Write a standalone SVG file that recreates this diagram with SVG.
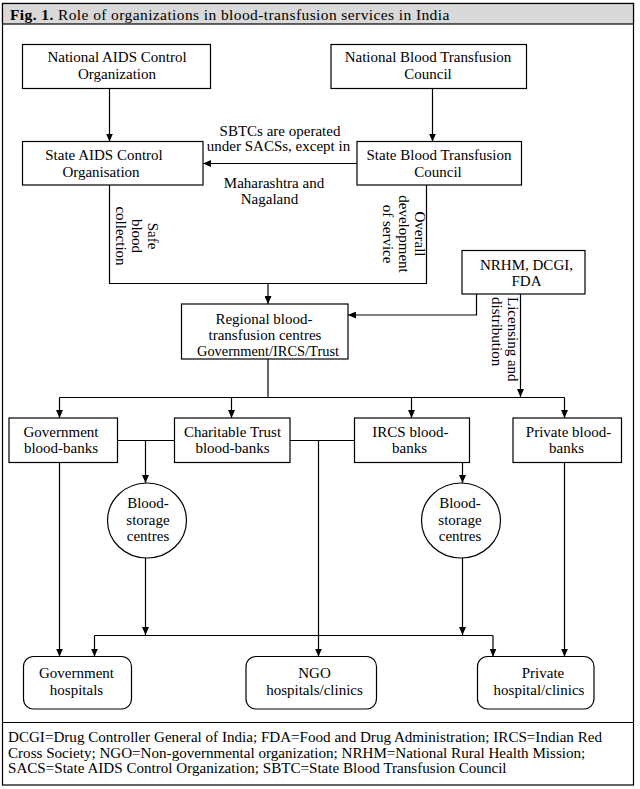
<svg xmlns="http://www.w3.org/2000/svg" width="640" height="789" viewBox="0 0 640 789">
<defs>
<marker id="ah" markerUnits="userSpaceOnUse" markerWidth="9" markerHeight="7" refX="8" refY="3.5" orient="auto">
<path d="M0,0 L8,3.5 L0,7 z" fill="#000"/>
</marker>
<style>
text{font-family:"Liberation Serif","Times New Roman",serif;fill:#000}
.t{font-size:15px;text-anchor:middle}
.box{fill:#fff;stroke:#000;stroke-width:1.2}
.c{fill:none;stroke:#000;stroke-width:1.2}
.a{fill:none;stroke:#000;stroke-width:1.2;marker-end:url(#ah)}
.fn{font-size:15.1px}
</style>
</defs>
<rect x="0" y="0" width="640" height="789" fill="#fff"/>
<rect x="2.5" y="3.5" width="631" height="781.5" fill="#fff" stroke="#000" stroke-width="1.2"/>
<rect x="2.5" y="3.5" width="631" height="20.5" fill="#d9d9d9" stroke="#000" stroke-width="1.2"/>
<text x="10" y="19.5" style="font-size:15.5px;letter-spacing:0.4px"><tspan font-weight="bold">Fig. 1.</tspan> Role of organizations in blood-transfusion services in India</text>
<line x1="2.5" y1="722.5" x2="633.5" y2="722.5" stroke="#000" stroke-width="1.2"/>

<g id="connectors">
<line class="a" x1="109.5" y1="88.5" x2="109.5" y2="141.5"/>
<line class="a" x1="432.5" y1="88.5" x2="432.5" y2="141.5"/>
<line class="a" x1="357" y1="163.5" x2="203" y2="163.5"/>
<polyline class="c" points="109.5,185 109.5,283.5 426.5,283.5 426.5,185"/>
<line class="a" x1="268" y1="283.5" x2="268" y2="304"/>
<polyline class="a" points="476.5,294 476.5,315 348,315"/>
<line class="a" x1="520.5" y1="294" x2="520.5" y2="397"/>
<line class="c" x1="268" y1="359" x2="268" y2="397.5"/>
<line class="c" x1="59.5" y1="397.5" x2="564.5" y2="397.5"/>
<line class="a" x1="59.5" y1="397.5" x2="59.5" y2="418"/>
<line class="a" x1="231.5" y1="397.5" x2="231.5" y2="418"/>
<line class="a" x1="411.5" y1="397.5" x2="411.5" y2="418"/>
<line class="a" x1="564.5" y1="397.5" x2="564.5" y2="418"/>
<line class="c" x1="117.5" y1="440.5" x2="174.5" y2="440.5"/>
<line class="a" x1="145.5" y1="440.5" x2="145.5" y2="483"/>
<line class="c" x1="290" y1="440.5" x2="354.5" y2="440.5"/>
<line class="a" x1="318.5" y1="440.5" x2="318.5" y2="656.5"/>
<line class="a" x1="59.5" y1="462.5" x2="59.5" y2="656.5"/>
<line class="a" x1="145.5" y1="558" x2="145.5" y2="635"/>
<line class="a" x1="462.5" y1="462.5" x2="462.5" y2="483"/>
<line class="a" x1="462.5" y1="558" x2="462.5" y2="635"/>
<line class="c" x1="94.5" y1="635.5" x2="493" y2="635.5"/>
<line class="a" x1="94.5" y1="635.5" x2="94.5" y2="656.5"/>
<line class="a" x1="493" y1="635.5" x2="493" y2="656.5"/>
<line class="a" x1="564.5" y1="462.5" x2="564.5" y2="656.5"/>
<g class="t">
<text x="280" y="135.5">SBTCs are operated</text>
<text x="278.5" y="151">under SACSs, except in</text>
<text x="274" y="187.5">Maharashtra and</text>
<text x="269.5" y="204">Nagaland</text>
<text transform="translate(148,236) rotate(90)">Safe</text>
<text transform="translate(132,236) rotate(90)">blood</text>
<text transform="translate(116,236) rotate(90)">collection</text>
<text transform="translate(415,234) rotate(90)">Overall</text>
<text transform="translate(399,234) rotate(90)">development</text>
<text transform="translate(383,234) rotate(90)">of service</text>
</g>
<text class="t" style="text-anchor:start" transform="translate(507.5,297) rotate(90)">Licensing and</text>
<text class="t" style="text-anchor:start" transform="translate(492,297) rotate(90)">distribution</text>
</g>

<g id="naco"><rect class="box" x="22.5" y="44.5" width="188" height="44"/>
<text class="t" x="117" y="62">National AIDS Control</text><text class="t" x="117" y="79">Organization</text></g>
<g id="nbtc"><rect class="box" x="331" y="44.5" width="195.5" height="44"/>
<text class="t" x="428" y="62">National Blood Transfusion</text><text class="t" x="428" y="79">Council</text></g>
<g id="saco"><rect class="box" x="22.5" y="141.5" width="180.5" height="43.5"/>
<text class="t" x="104" y="160">State AIDS Control</text><text class="t" x="101" y="176.5">Organisation</text></g>
<g id="sbtc"><rect class="box" x="357" y="141.5" width="164.5" height="43.5"/>
<text class="t" x="439" y="160">State Blood Transfusion</text><text class="t" x="438" y="176.5">Council</text></g>
<g id="nrhm"><rect class="box" x="462" y="250.5" width="123" height="43.5"/>
<text class="t" x="526.5" y="270">NRHM, DCGI,</text><text class="t" x="526.5" y="285.5">FDA</text></g>
<g id="regional"><rect class="box" x="181.5" y="304" width="166.5" height="55"/>
<text class="t" x="264" y="324">Regional blood-</text><text class="t" x="265" y="339.5">transfusion centres</text><text class="t" x="268" y="355.5" textLength="142" lengthAdjust="spacingAndGlyphs">Government/IRCS/Trust</text></g>
<g id="govbb"><rect class="box" x="9" y="418" width="108.5" height="44.5"/>
<text class="t" x="61" y="436.5">Government</text><text class="t" x="61" y="453">blood-banks</text></g>
<g id="trustbb"><rect class="box" x="174.5" y="418" width="115.5" height="44.5"/>
<text class="t" x="232.5" y="436.5">Charitable Trust</text><text class="t" x="232.5" y="453">blood-banks</text></g>
<g id="ircsbb"><rect class="box" x="354.5" y="418" width="115" height="44.5"/>
<text class="t" x="410.5" y="436.5">IRCS blood-</text><text class="t" x="409.5" y="453">banks</text></g>
<g id="privbb"><rect class="box" x="513" y="418" width="108.5" height="44.5"/>
<text class="t" x="568.5" y="436.5">Private blood-</text><text class="t" x="566.5" y="453">banks</text></g>
<g id="storage1"><ellipse class="box" cx="147" cy="520.5" rx="39.5" ry="37.5"/>
<text class="t" x="148" y="508">Blood-</text><text class="t" x="148" y="524.5">storage</text><text class="t" x="148" y="541">centres</text></g>
<g id="storage2"><ellipse class="box" cx="461" cy="520.5" rx="39.5" ry="37.5"/>
<text class="t" x="460" y="508">Blood-</text><text class="t" x="460" y="524.5">storage</text><text class="t" x="460" y="541">centres</text></g>
<g id="govhosp"><rect class="box" x="23.5" y="656.5" width="108" height="52.5" rx="10"/>
<text class="t" x="76.5" y="678">Government</text><text class="t" x="76.5" y="695">hospitals</text></g>
<g id="ngohosp"><rect class="box" x="246" y="656.5" width="130.5" height="52.5" rx="10"/>
<text class="t" x="314.5" y="678">NGO</text><text class="t" x="314.5" y="695">hospitals/clinics</text></g>
<g id="privhosp"><rect class="box" x="477.5" y="656.5" width="116.5" height="52.5" rx="10"/>
<text class="t" x="543" y="678">Private</text><text class="t" x="539" y="695">hospital/clinics</text></g>

<g id="footnote" class="fn">
<text x="8" y="742">DCGI=Drug Controller General of India; FDA=Food and Drug Administration; IRCS=Indian Red</text>
<text x="8" y="757.5">Cross Society; NGO=Non-governmental organization; NRHM=National Rural Health Mission;</text>
<text x="8" y="773">SACS=State AIDS Control Organization; SBTC=State Blood Transfusion Council</text>
</g>
</svg>
